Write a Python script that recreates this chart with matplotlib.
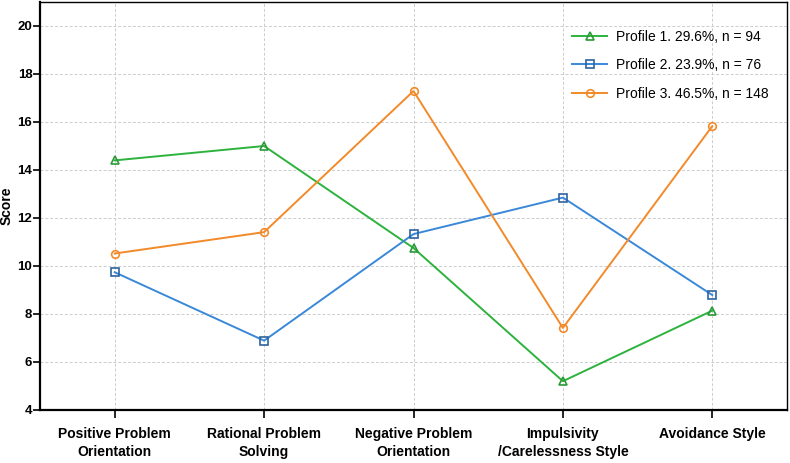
import matplotlib
matplotlib.use("Agg")
import matplotlib.pyplot as plt

categories = ["Positive Problem\nOrientation", "Rational Problem\nSolving",
              "Negative Problem\nOrientation", "Impulsivity\n/Carelessness Style",
              "Avoidance Style"]
profile1 = [14.40, 15.00, 10.75, 5.20, 8.14]
profile2 = [9.74, 6.89, 11.33, 12.85, 8.79]
profile3 = [10.52, 11.41, 17.29, 7.42, 15.83]
labels = ["Profile 1. 29.6%, n = 94", "Profile 2. 23.9%, n = 76", "Profile 3. 46.5%, n = 148"]
yticks = [4, 6, 8, 10, 12, 14, 16, 18, 20]

plt.rcParams['font.family'] = ['Liberation Sans', 'DejaVu Sans']

fig = plt.figure(figsize=(7.9, 4.63), dpi=100)
ax = fig.add_axes([40/790, 1-410/463, 747/790, 408/463])

x = list(range(len(categories)))
ax.plot(x, profile1, color="#2db33d", marker="^", markersize=5.5, markerfacecolor="none",
        markeredgecolor="#2a9a38", markeredgewidth=1.2, linewidth=1.4, label=labels[0])
ax.plot(x, profile2, color="#3a88d8", marker="s", markersize=5.5, markerfacecolor="none",
        markeredgecolor="#2f62a0", markeredgewidth=1.2, linewidth=1.4, label=labels[1])
ax.plot(x, profile3, color="#f28a2a", marker="o", markersize=5.5, markerfacecolor="none",
        markeredgecolor="#f28a2a", markeredgewidth=1.2, linewidth=1.4, label=labels[2])

ax.set_xlim(-0.5, 4.5)
ax.set_ylim(4, 21)
ax.set_yticks(yticks)
ax.set_xticks(x)
ax.set_xticklabels(categories, fontsize=10, fontweight="bold", linespacing=1.35)
for t in ax.get_yticklabels():
    t.set_fontweight("bold")
    t.set_fontsize(9.5)
ax.tick_params(axis="x", length=6, width=1.2, pad=6)
ax.tick_params(axis="y", length=5, width=1.2, pad=0.5)
ax.set_ylabel("Score", fontsize=10, fontweight="bold")
ax.yaxis.set_label_coords(-0.035, 0.5)

ax.grid(True, color="#cccccc", linestyle=(0, (3, 2)), linewidth=0.7)
ax.set_axisbelow(True)
for s in ["left", "bottom"]:
    ax.spines[s].set_linewidth(1.6)
for s in ["top", "right"]:
    ax.spines[s].set_linewidth(1.0)

ax.legend(loc="upper right", frameon=False, fontsize=10, handlelength=2.5,
          handletextpad=0.65, labelspacing=1.05, borderpad=0.4,
          bbox_to_anchor=(0.992, 0.963))

fig.savefig("out.png", dpi=100)
